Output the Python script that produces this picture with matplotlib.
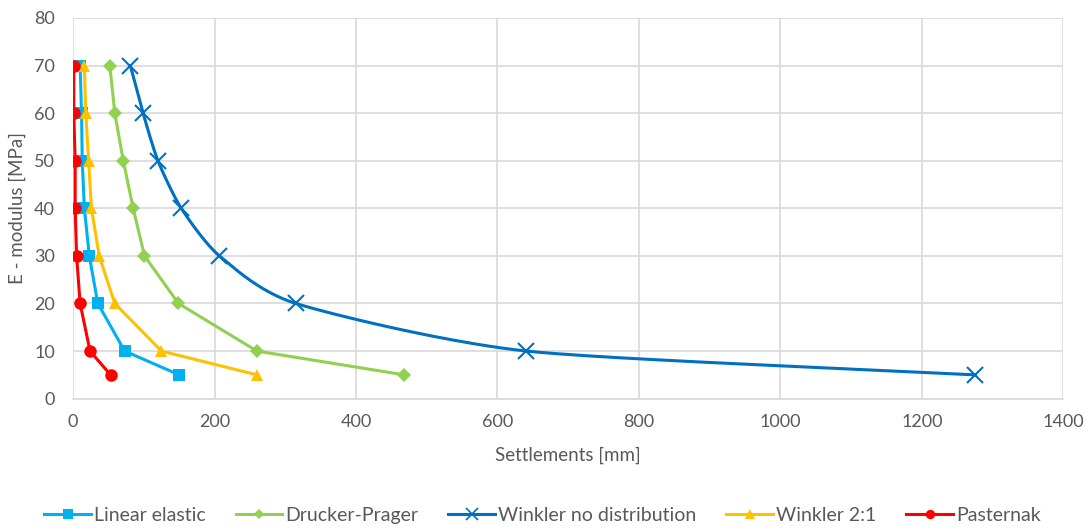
import numpy as np
import matplotlib
matplotlib.use("Agg")
import matplotlib.pyplot as plt

# E-modulus levels [MPa]
e_modulus = [70, 60, 50, 40, 30, 20, 10, 5]

# Settlements [mm] for each model
linear_elastic = [10, 12, 13, 16, 23, 35, 73, 150]
drucker_prager = [52, 59, 71, 85, 101, 149, 260, 468]
winkler_no_dist = [81, 99, 120, 153, 207, 315, 641, 1275]
winkler_2_1 = [16, 18, 22, 26, 37, 59, 125, 260]
pasternak = [1, 1, 3, 3, 5, 10, 24, 53]

x_ticks = [0, 200, 400, 600, 800, 1000, 1200, 1400]
y_ticks = [0, 10, 20, 30, 40, 50, 60, 70, 80]

plt.rcParams['font.family'] = ['Lato', 'DejaVu Sans']
text_color = '#595959'
grid_color = '#D9D9D9'


def smooth(x, y, n=40, tension=0.7):
    """Cardinal spline through the points (a 'smoothed line')."""
    x = np.asarray(x, float)
    y = np.asarray(y, float)
    px = np.concatenate([[2 * x[0] - x[1]], x, [2 * x[-1] - x[-2]]])
    py = np.concatenate([[2 * y[0] - y[1]], y, [2 * y[-1] - y[-2]]])
    xs, ys = [], []
    t = np.linspace(0, 1, n)
    h00 = 2 * t**3 - 3 * t**2 + 1
    h10 = t**3 - 2 * t**2 + t
    h01 = -2 * t**3 + 3 * t**2
    h11 = t**3 - t**2
    for i in range(1, len(px) - 2):
        for p, out in ((px, xs), (py, ys)):
            p0, p1, p2, p3 = p[i - 1], p[i], p[i + 1], p[i + 2]
            m1 = (p2 - p0) / 2 * tension
            m2 = (p3 - p1) / 2 * tension
            out.extend(h00 * p1 + h10 * m1 + h01 * p2 + h11 * m2)
    return np.array(xs), np.array(ys)


fig = plt.figure(figsize=(10.87, 5.28), dpi=100)
ax = fig.add_axes([0.0672, 0.245, 0.911, 0.721])

series = [
    ("Linear elastic", linear_elastic, '#00B0F0', 's', 9, False),
    ("Drucker-Prager", drucker_prager, '#92D050', 'D', 7, False),
    ("Winkler no distribution", winkler_no_dist, '#0070C0', 'x', 11, True),
    ("Winkler 2:1", winkler_2_1, '#FFC000', '^', 9, False),
    ("Pasternak", pasternak, '#FF0000', 'o', 9, False),
]

handles = []
for i, (name, vals, color, marker, ms, smoothed) in enumerate(series):
    z = 3 + i
    if smoothed:
        sx, sy = smooth(vals, e_modulus)
        ax.plot(sx, sy, color=color, lw=2.2, zorder=z, solid_capstyle='round')
        ax.plot(vals, e_modulus, ls='none', marker=marker, ms=ms, mew=1.5,
                color=color, zorder=z)
    else:
        ax.plot(vals, e_modulus, color=color, lw=2.2, marker=marker, ms=ms,
                mew=0, zorder=z)
    h, = ax.plot([], [], color=color, lw=2.2, marker=marker,
                 ms=ms * 0.75, mew=1.2 if marker == 'x' else 0, label=name)
    handles.append(h)

ax.set_xlim(0, 1400)
ax.set_ylim(0, 80)
ax.set_xticks(x_ticks)
ax.set_yticks(y_ticks)
ax.grid(True, color=grid_color, lw=1.2)
ax.set_axisbelow(True)
for s in ('top', 'right', 'left'):
    ax.spines[s].set_visible(False)
ax.spines['bottom'].set_color(grid_color)
ax.spines['bottom'].set_linewidth(1.2)
ax.tick_params(length=0, labelsize=13, colors=text_color, pad=11)
ax.tick_params(axis='y', pad=13)

ax.set_xlabel("Settlements [mm]", fontsize=13.5, color=text_color, labelpad=12)
ax.set_ylabel("E - modulus [MPa]", fontsize=13.5, color=text_color, labelpad=6)

leg = fig.legend(handles=handles, loc='lower center',
                 bbox_to_anchor=(0.499, -0.025), ncol=5,
                 frameon=False, fontsize=14, handlelength=2.4,
                 handletextpad=0.15, columnspacing=1.55)
for t in leg.get_texts():
    t.set_color(text_color)

fig.savefig("out.png", dpi=100)
